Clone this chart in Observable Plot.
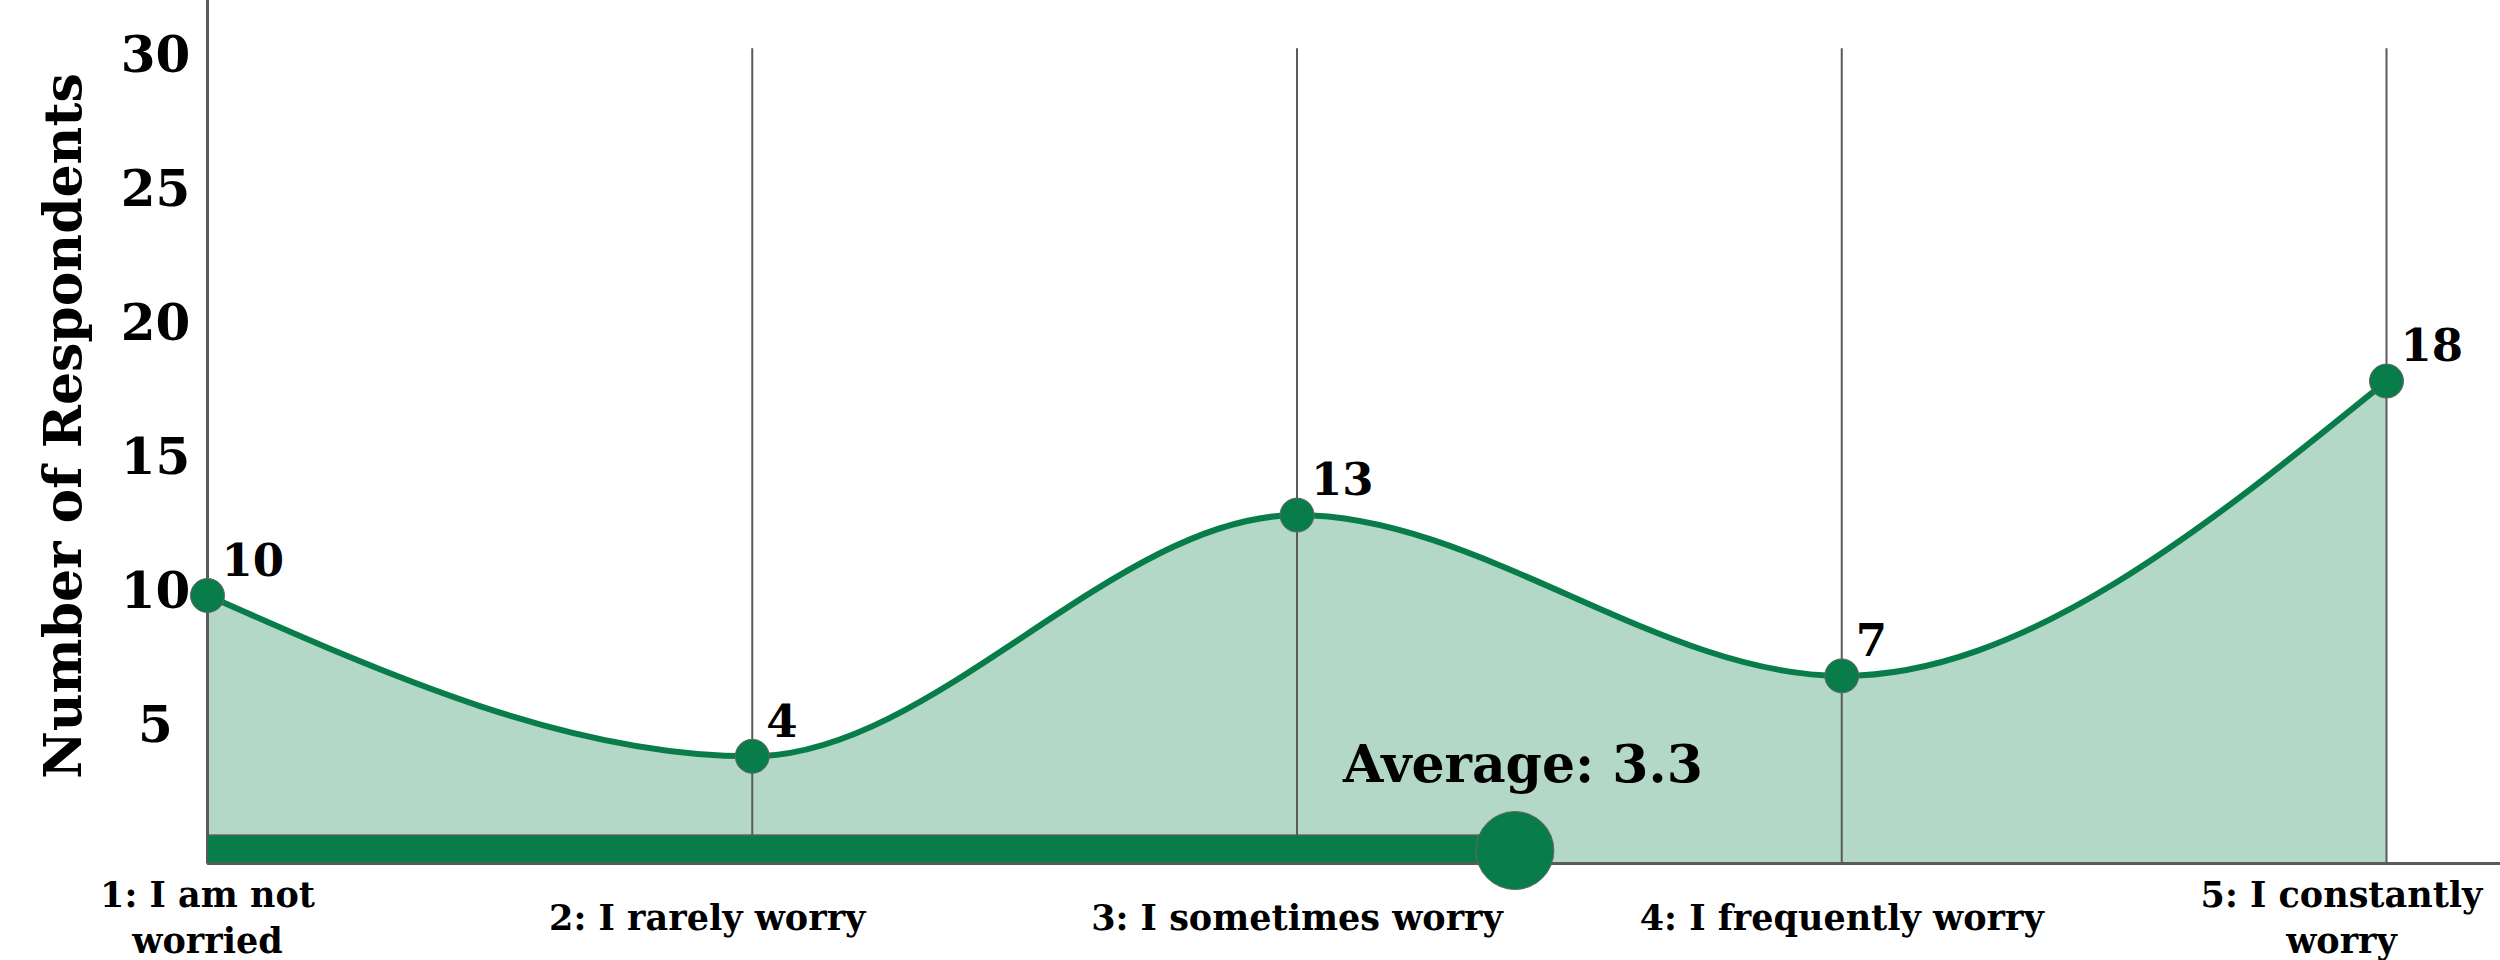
<!DOCTYPE html>
<html><head><meta charset="utf-8">
<script src="https://cdn.jsdelivr.net/npm/d3@7"></script>
<script src="https://cdn.jsdelivr.net/npm/@observablehq/plot@0.6"></script>
<style>
html,body{margin:0;padding:0;background:#fff;}
#chart svg{display:block;}
</style></head><body><div id="chart"></div>
<script>
const levels = [1, 2, 3, 4, 5];
const levelLabels = ["1: I am not\nworried", "2: I rarely worry", "3: I sometimes worry", "4: I frequently worry", "5: I constantly\nworry"];
const respondents = [10, 4, 13, 7, 18];
const yTicks = [5, 10, 15, 20, 25, 30];
const averagePosition = 3.4;
const averageLabel = "Average: 3.3";
const yTitle = "Number of Respondents";

const data = levels.map((l, i) => ({level: l, label: levelLabels[i], n: respondents[i]}));

const font = "'DejaVu Serif', Georgia, serif";
const green = "#087d4a", fillGreen = "#b3d8c8", gray = "#5a5a5a";
const catStyle = {x: "level", y: 0, text: "label", dy: 52, lineAnchor: "middle", lineHeight: 1.3, fontSize: 35, fontWeight: "bold"};

const chart = Plot.plot({
  width: 2500, height: 960,
  marginLeft: 207, marginRight: 114, marginTop: 0, marginBottom: 97,
  x: {type: "linear", domain: [1, 5], axis: null},
  y: {domain: [0, 32.2], axis: null},
  style: {fontFamily: font, background: "#fff", color: "#000"},
  marks: [
    Plot.areaY(data, {x: "level", y: "n", curve: "monotone-x", fill: fillGreen}),
    Plot.ruleX([1], {stroke: gray, strokeWidth: 3}),
    Plot.ruleX(levels.slice(1), {y1: 0, y2: 30.4, stroke: gray, strokeWidth: 2}),
    Plot.ruleY([0], {stroke: gray, strokeWidth: 3, insetRight: -114}),
    Plot.lineY(data, {x: "level", y: "n", curve: "monotone-x", stroke: green, strokeWidth: 6}),
    Plot.dot(data, {x: "level", y: "n", r: 17, fill: green, stroke: "#666", strokeWidth: 1}),
    Plot.text(data, {x: "level", y: "n", text: d => String(d.n), textAnchor: "start", dx: 14, dy: -34, fontSize: 45, fontWeight: "bold"}),
    Plot.rect([averagePosition], {x1: 1, x2: d => d, y1: 0, y2: 1.04, fill: green, stroke: gray, strokeWidth: 1.5}),
    Plot.dot([averagePosition], {x: d => d, y: 0, dy: -13, r: 39, fill: green, stroke: "#666", strokeWidth: 1}),
    Plot.text([averageLabel], {x: averagePosition, y: 0, dy: -98, dx: 8, fontSize: 52, fontWeight: "bold"}),
    Plot.text(yTicks, {x: 1, y: d => d, dx: -52, dy: -3, textAnchor: "middle", fontSize: 50, fontWeight: "bold"}),
    Plot.text([yTitle], {frameAnchor: "left", textAnchor: "middle", rotate: -90, dx: -143, dy: -6, fontSize: 52, fontWeight: "bold"}),
    Plot.text(data.filter(d => d.level === 1 || d.level === 3 || d.level === 4), catStyle),
    Plot.text(data.filter(d => d.level === 2), {...catStyle, dx: -45}),
    Plot.text(data.filter(d => d.level === 5), {...catStyle, dx: -45})
  ]
});
document.getElementById("chart").appendChild(chart);
</script>
</body></html>
